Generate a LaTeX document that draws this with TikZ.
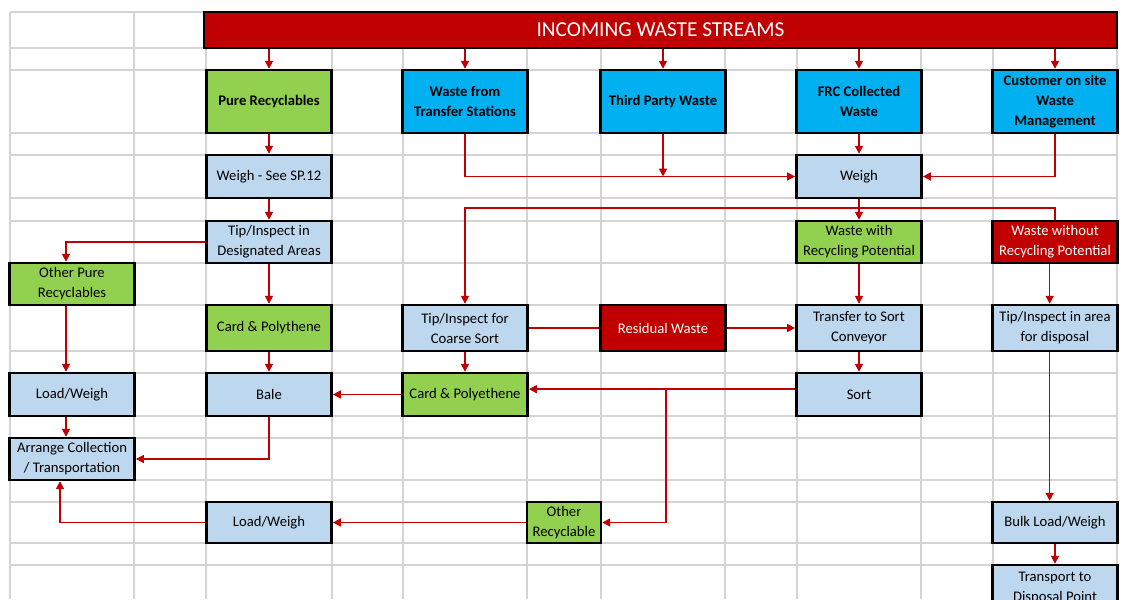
\documentclass[tikz,border=0pt]{standalone}
\usepackage{fontspec}
\setmainfont{Carlito}
\usetikzlibrary{arrows.meta}
\definecolor{wred}{HTML}{C00000}
\definecolor{wgreen}{HTML}{92D050}
\definecolor{wcyan}{HTML}{00B0F0}
\definecolor{wblue}{HTML}{BDD7EE}
\definecolor{wgrid}{HTML}{D4D4D4}
\begin{document}
\begin{tikzpicture}[x=0.75pt,y=-0.75pt,
	base_node/.style={rectangle,draw=black,line width=1.8pt,align=center,inner sep=1pt,minimum width=94pt,font=\fontsize{11}{15}\selectfont},
	green_node/.style={base_node,fill=wgreen},
	cyan_node/.style={base_node,fill=wcyan,font=\fontsize{11}{15}\selectfont\bfseries},
	blue_node/.style={base_node,fill=wblue},
	red_node/.style={base_node,fill=wred,text=white},
	flow_arrow/.style={draw=wred,line width=1.2pt,-{Triangle[length=6pt,width=6pt]}},
	flow_line/.style={draw=wred,line width=1.2pt}]
		
		\useasboundingbox (0,0) rectangle (1123,599);
		\clip (0,0) rectangle (1123,599);
		\fill[white] (0,0) rectangle (1123,599);
		
		% sheet grid
		\foreach \gx in {10,134,206,332,403,527,601,725,797,921,993,1117}
		\draw[wgrid,line width=1pt] (\gx,12) -- (\gx,599);
		\foreach \gy in {12,48,70,133,155,198,221,263,305,351,373,416,438,480,502,543,565}
		\draw[wgrid,line width=1pt] (10,\gy) -- (1117,\gy);
		
		\node[red_node,minimum width=684.75pt,minimum height=27pt,font=\fontsize{16}{18}\selectfont] (0) at (660.5,30) {INCOMING WASTE STREAMS};
		
		\node[green_node,minimum height=47.25pt,font=\fontsize{11}{15}\selectfont\bfseries] (1) at (269,101.5) {Pure Recyclables};
		\node[cyan_node,minimum height=47.25pt] (2) at (465,101.5) {Waste from\\Transfer Stations};
		\node[cyan_node,minimum height=47.25pt] (3) at (663,101.5) {Third Party Waste};
		\node[cyan_node,minimum height=47.25pt] (4) at (859,101.5) {FRC Collected\\Waste};
		\node[cyan_node,minimum height=47.25pt] (5) at (1055,101.5) {Customer on site\\Waste\\Management};
		
		\node[blue_node,minimum height=32.25pt] (6) at (269,176.5) {Weigh - See SP.12};
		\node[blue_node,minimum height=32.25pt] (7) at (859,176.5) {Weigh};
		
		\node[blue_node,minimum height=31.5pt] (8) at (269,242) {Tip/Inspect in\\Designated Areas};
		\node[green_node,minimum height=31.5pt] (9) at (859,242) {Waste with\\Recycling Potential};
		\node[red_node,minimum height=31.5pt] (10) at (1055,242) {Waste without\\Recycling Potential};
		\node[green_node,minimum height=31.5pt] (11) at (72,284) {Other Pure\\Recyclables};
		
		\node[green_node,minimum height=34.5pt] (12) at (269,328) {Card \& Polythene};
		\node[blue_node,minimum height=34.5pt] (13) at (465,328) {Tip/Inspect for\\Coarse Sort};
		\node[red_node,minimum height=34.5pt] (14) at (663,328) {Residual Waste};
		\node[blue_node,minimum height=34.5pt] (15) at (859,328) {Transfer to Sort\\Conveyor};
		\node[blue_node,minimum height=34.5pt] (16) at (1055,328) {Tip/Inspect in area\\for disposal};
		
		\node[blue_node,minimum height=32.25pt] (17) at (72,394.5) {Load/Weigh};
		\node[blue_node,minimum height=32.25pt] (18) at (269,394.5) {Bale};
		\node[green_node,minimum height=32.25pt] (19) at (465,394.5) {Card \& Polyethene};
		\node[blue_node,minimum height=32.25pt] (20) at (859,394.5) {Sort};
		
		\node[blue_node,minimum height=31.5pt] (21) at (72,459) {Arrange Collection\\/ Transportation};
		
		\node[blue_node,minimum height=30.75pt] (22) at (269,522.5) {Load/Weigh};
		\node[green_node,minimum width=55.5pt,minimum height=30.75pt] (23) at (564,522.5) {Other\\Recyclable};
		\node[blue_node,minimum height=30.75pt] (24) at (1055,522.5) {Bulk Load/Weigh};
		\node[blue_node,minimum height=34.5pt] (25) at (1055,588) {Transport to\\Disposal Point};
		
		\coordinate (j1) at (859,208);
		\coordinate (j2) at (666,389);
		
		\draw[flow_arrow] (0.south -| 1.north) -- (1.north);
		\draw[flow_arrow] (0.south -| 2.north) -- (2.north);
		\draw[flow_arrow] (0.south -| 3.north) -- (3.north);
		\draw[flow_arrow] (0.south -| 4.north) -- (4.north);
		\draw[flow_arrow] (0.south -| 5.north) -- (5.north);
		
		\draw[flow_arrow] (1) -- (6);
		\draw[flow_arrow] (6) -- (8);
		\draw[flow_arrow] (2.south) |- (7.west);
		\draw[flow_arrow] (3.south) -- (3.south |- 7.west);
		\draw[flow_arrow] (4) -- (7);
		\draw[flow_arrow] (5.south) |- (7.east);
		
		\draw[flow_arrow] (7) -- (9);
		\draw[flow_arrow] (j1) -| (13.north);
		\draw[flow_line] (j1) -| (10.north);
		
		\draw[flow_arrow] (8.west) -| ([xshift=-4.5pt]11.north);
		\draw[flow_arrow] (8) -- (12);
		\draw[flow_arrow] ([xshift=-4.5pt]11.south) -- ([xshift=-4.5pt]17.north);
		\draw[flow_arrow] (12) -- (18);
		\draw[flow_arrow] ([xshift=-4.5pt]17.south) -- ([xshift=-4.5pt]21.north);
		\draw[flow_arrow] (18.south) |- (21.east);
		\draw[flow_arrow] (19.west) -- (18.east);
		
		\draw[flow_arrow] (13) -- (19);
		\draw[flow_line] (13.east) -- (14.west);
		\draw[flow_arrow] (14.east) -- (15.west);
		\draw[flow_arrow] (15) -- (20);
		\draw[flow_arrow] ([yshift=4pt]20.west) -- ([yshift=4pt]19.east);
		\draw[flow_arrow] (j2) |- (23.east);
		\draw[flow_arrow] (23.west) -- (22.east);
		\draw[flow_arrow] (22.west) -| ([xshift=-9pt]21.south);
		
		\draw[flow_arrow] (9) -- (15);
		\draw[flow_arrow] ([xshift=-4pt]10.south) -- ([xshift=-4pt]16.north);
		\draw[flow_arrow] ([xshift=-4pt]16.south) -- ([xshift=-4pt]24.north);
		\draw[flow_arrow] (24) -- (25);
		\end{tikzpicture}
\end{document}
